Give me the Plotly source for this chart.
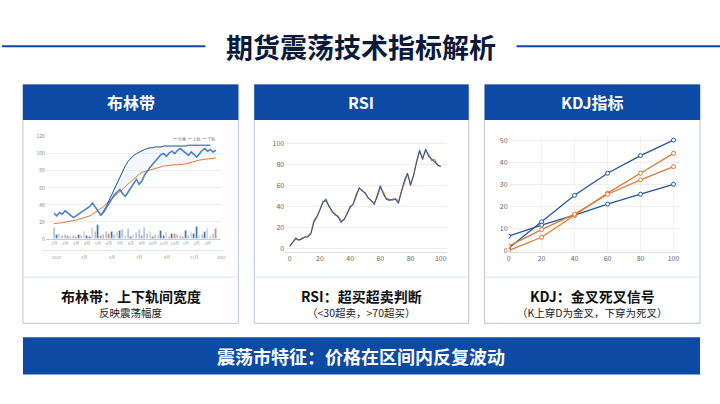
import plotly.graph_objects as go

W, H = 720, 404
title = "期货震荡技术指标解析"
card_titles = ["布林带", "RSI", "KDJ指标"]
card_main = ["布林带：上下轨间宽度", "RSI：超买超卖判断", "KDJ：金叉死叉信号"]
card_sub = ["反映震荡幅度", "（<30超卖，>70超买）", "（K上穿D为金叉，下穿为死叉）"]
banner = "震荡市特征：价格在区间内反复波动"

# Bollinger
boll_price = [30,27,31,29,33,30,28,25,27,29,31,33,35,38,42,37,33,28,31,36,42,47,52,55,58,53,50,55,60,66,
              70,64,68,75,80,84,88,92,96,99,100,97,101,103,100,104,106,103,100,98,102,99,96,100,104,106,103,105,102,104]
boll_upper = [None]*17 + [27,32,38,45,52,59,66,73,80,86,91,95,98,100,102,104,105,106,107,107,108,108,108,109,109,109,109,109,
              109,109,109,109,110,110,110,110,110,110,110,110,110]
boll_lower = [18,18,18.5,19,19.5,20,20.5,21,22,23,24,25,26,27,29,31,33,35,38,41,44,47,50,53,56,59,62,65,68,71,
              74,76,78,79,80,81,82,83,84,85,85.5,86,86.5,87,87,87,87,87.5,88,89,90,91,92,92.5,93,93.5,94,94.5,95,95]
boll_vol = [13,5,6,4,5,4,3,4,3,5,4,9,4,3,13,8,17,4,5,9,6,8,5,8,10,11,4,12,3,5,
            7,11,4,13,6,9,3,5,5,10,4,7,3,6,6,5,4,3,10,4,7,6,14,4,5,9,12,3,6,12]
boll_vol_color = ["#3a6fb5" if i % 3 != 2 else "#e0894a" for i in range(len(boll_vol))]
boll_ticks = ["1月","2月","3月","4月","5月","6月","7月","8月","9月","10月","11月","12月","1月","2月","3月"]
boll_ticks2 = ["2020", "3月", "5月", "7月", "9月", "11月", "2021"]

# RSI
rsi_x = list(range(0, 101, 2))
rsi_blue = [2,6,10,8,9,11,11,14,25,30,38,44,47,40,36,33,30,25,28,33,40,42,50,58,55,53,48,46,42,50,
            60,52,47,46,47,47,43,55,65,72,60,70,82,94,85,95,88,85,83,80,78]
rsi_orange = [3,6,9,8,10,11,12,15,27,31,37,45,45,41,35,32,31,27,27,34,39,43,52,57,56,52,49,45,44,49,
              58,54,48,47,46,48,45,54,63,71,62,69,84,92,87,93,90,84,85,79,79]

# KDJ
kdj_x = [0, 20, 40, 60, 80, 100]
kdj_k = [1, 13, 25, 35, 43, 50]
kdj_d = [6.5, 11.5, 16, 21, 25.5, 30]
kdj_j = [0, 6, 16, 26, 35, 44]
kdj_m = [2, 9.5, 16.5, 25.5, 32, 38]

BLUE = "#0d4aa6"
ORANGE = "#e07a35"
DBLUE = "#2355a0"

def px(x): return x / W
def py(y): return 1 - y / H

fig = go.Figure()

fig.add_trace(go.Scatter(x=list(range(60)), y=boll_lower, mode="lines", line=dict(color=ORANGE, width=1),
                         xaxis="x", yaxis="y", showlegend=False))
fig.add_trace(go.Scatter(x=list(range(60)), y=boll_upper, mode="lines", line=dict(color="#1f4f8f", width=1),
                         fill="tonexty", fillcolor="rgba(200,220,240,0.2)", xaxis="x", yaxis="y", showlegend=False))
fig.add_trace(go.Scatter(x=list(range(60)), y=boll_price, mode="lines", line=dict(color="#4a80c8", width=1.6),
                         xaxis="x", yaxis="y", showlegend=False))
fig.add_trace(go.Bar(x=list(range(60)), y=boll_vol, marker_color=boll_vol_color, width=0.5,
                     xaxis="x", yaxis="y", showlegend=False))

for k, c in [(rsi_orange, ORANGE), (rsi_blue, "#2f5c9a")]:
    fig.add_trace(go.Scatter(x=rsi_x, y=k, mode="lines", line=dict(color=c, width=1.1),
                             xaxis="x2", yaxis="y2", showlegend=False))

for ys, c in [(kdj_k, DBLUE), (kdj_d, DBLUE), (kdj_j, ORANGE), (kdj_m, ORANGE)]:
    fig.add_trace(go.Scatter(x=kdj_x, y=ys, mode="lines+markers", line=dict(color=c, width=1.3),
                             marker=dict(size=4, color="white", line=dict(color=c, width=1)),
                             xaxis="x3", yaxis="y3", showlegend=False))

tickf = dict(size=5, color="#888")
grid = "#eeeeee"
fig.update_layout(
    width=W, height=H, margin=dict(l=0, r=0, t=0, b=0),
    paper_bgcolor="white", plot_bgcolor="rgba(0,0,0,0)", bargap=0,
    font=dict(family="Noto Sans CJK SC"),
    xaxis=dict(domain=[px(44), px(220)], range=[-3, 61], tickvals=list(range(0, 60, 4)), ticktext=boll_ticks,
               tickfont=dict(size=4, color="#999"), showgrid=False, zeroline=False,
               showline=True, linecolor="#ccc"),
    yaxis=dict(domain=[py(239), py(135)], range=[0, 120], dtick=20, tickfont=tickf, gridcolor=grid, zeroline=False),
    xaxis2=dict(domain=[px(284), px(446)], range=[-3, 104], dtick=20, tickfont=dict(size=7, color="#666"),
                showgrid=False, zeroline=False, showline=True, linecolor="#ddd", anchor="y2"),
    yaxis2=dict(domain=[py(252), py(138)], range=[-3, 104], dtick=20, tickfont=dict(size=7, color="#666"),
                gridcolor=grid, zeroline=False, anchor="x2"),
    xaxis3=dict(domain=[px(508), px(680)], range=[0, 104], dtick=20, tickfont=dict(size=7, color="#666"),
                showgrid=True, gridcolor="#f3f3f3", zeroline=False, showline=True, linecolor="#ddd", anchor="y3"),
    yaxis3=dict(domain=[py(252), py(134)], range=[-0.5, 52], dtick=10, tickfont=dict(size=7, color="#666"),
                gridcolor=grid, zeroline=False, anchor="x3"),
)

shapes = []
ann = []

def A(text, x, y, size, color, xanchor="center"):
    ann.append(dict(text=text, x=x, y=y, xref="paper", yref="paper", showarrow=False,
                    xanchor=xanchor, yanchor="middle", font=dict(size=size, color=color)))

shapes.append(dict(type="line", xref="paper", yref="paper", x0=0, x1=px(204), y0=py(43), y1=py(43),
                   line=dict(color=BLUE, width=2)))
shapes.append(dict(type="line", xref="paper", yref="paper", x0=px(516), x1=1, y0=py(43), y1=py(43),
                   line=dict(color=BLUE, width=2)))
A("<b>" + title + "</b>", 0.5, py(43), 27, "#0b1a3a")

cards = [(21, 237), (253, 468), (484, 700)]
for i, (a, b) in enumerate(cards):
    shapes.append(dict(type="rect", xref="paper", yref="paper", x0=px(a), x1=px(b), y0=py(325), y1=py(82),
                       fillcolor="white", line=dict(color="#b9c6d8", width=1), layer="below"))
    shapes.append(dict(type="rect", xref="paper", yref="paper", x0=px(a), x1=px(b), y0=py(118), y1=py(82),
                       fillcolor=BLUE, line=dict(width=0), layer="below"))
    shapes.append(dict(type="line", xref="paper", yref="paper", x0=px(a), x1=px(b), y0=py(278), y1=py(278),
                       line=dict(color="#e3e7ee", width=1), layer="below"))
    cx = px((a + b) / 2)
    A("<b>" + card_titles[i] + "</b>", cx, py(100), 16, "white")
    A("<b>" + card_main[i] + "</b>", cx, py(297), 14, "#111")
    A(card_sub[i], cx, py(314), 10.5, "#222")

# Bollinger second x-row
shapes.append(dict(type="line", xref="paper", yref="paper", x0=px(40), x1=px(222), y0=py(251), y1=py(251),
                   line=dict(color="#ddd", width=0.8)))
for j, t in enumerate(boll_ticks2):
    A(t, px(55 + j * 27.5), py(257), 4, "#999")

shapes.append(dict(type="rect", xref="paper", yref="paper", x0=px(21), x1=px(700), y0=py(377), y1=py(339),
                   fillcolor=BLUE, line=dict(width=0), layer="below"))
A("<b>" + banner + "</b>", 0.5, py(358), 18, "white")
A("━ 价格  ━ 上轨  ━ 下轨", px(216), py(137), 4, "#777", xanchor="right")

fig.update_layout(shapes=shapes, annotations=ann)
fig.write_html("out.html", post_script="document.body.style.margin='0';",
               config={"displayModeBar": False})
